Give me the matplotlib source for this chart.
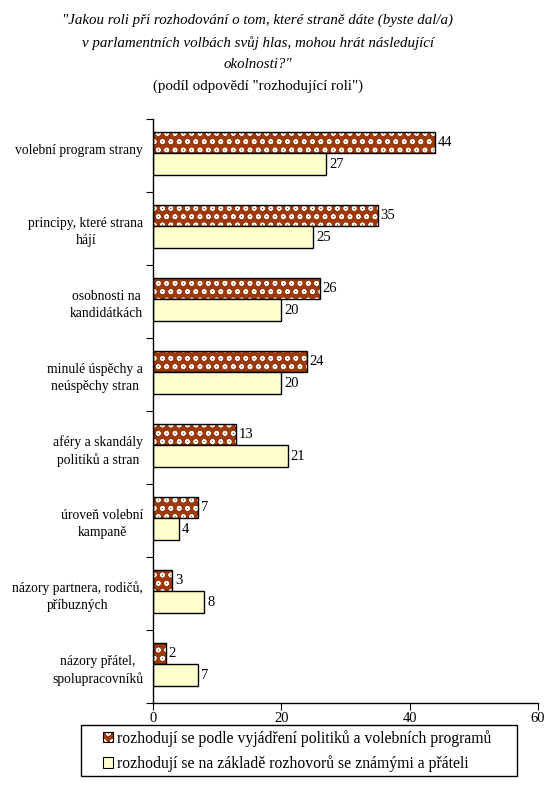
import numpy as np
import matplotlib.pyplot as plt
from matplotlib.patches import Patch, Rectangle

plt.rcParams['font.family'] = ['Liberation Serif', 'DejaVu Serif']
plt.rcParams['font.size'] = 9.8
plt.rcParams['hatch.linewidth'] = 1.0

# data
kategorie = ['volební program strany\n ',
             'principy, které strana\nhájí',
             'osobnosti na\nkandidátkách',
             'minulé úspěchy a\nneúspěchy stran',
             'aféry a skandály\npolitiků a stran',
             'úroveň volební\nkampaně',
             'názory partnera, rodičů,\npříbuzných',
             'názory přátel,\nspolupracovníků']
politici = [44, 35, 26, 24, 13, 7, 3, 2]
pratele = [27, 25, 20, 20, 21, 4, 8, 7]
serie = ['rozhodují se podle vyjádření politiků a volebních programů',
         'rozhodují se na základě rozhovorů se známými a přáteli']

hneda = '#9C3A0C'
zluta = '#FFFFCC'

fig = plt.figure(figsize=(5.52, 7.85), dpi=100)
ax = fig.add_axes([153/552, 1-703/785, 385/552, 584/785])

y = np.arange(len(kategorie))
h = 0.295
sh = 0.03
# horni serie - hneda s bilymi koleckami
ax.barh(y - h/2 - sh, politici, height=h, color=hneda, edgecolor='white',
        hatch='oo', linewidth=0)
b1 = ax.barh(y - h/2 - sh, politici, height=h, fill=False, edgecolor='black', linewidth=1)
b2 = ax.barh(y + h/2 - sh, pratele, height=h, color=zluta, edgecolor='black', linewidth=1)
ax.bar_label(b1, padding=2, fontsize=10.5)
ax.bar_label(b2, padding=2, fontsize=10.5)

ax.set_xlim(0, 60)
ax.set_xticks([0, 20, 40, 60])
ax.set_ylim(len(kategorie) - 0.5, -0.5)
ax.set_yticks(np.arange(len(kategorie) + 1) - 0.5)
ax.set_yticklabels([])
ax.set_yticks(y, kategorie, minor=True)
ax.tick_params(axis='y', which='minor', length=0, pad=7)
ax.tick_params(axis='y', which='major', length=5, direction='out')
ax.tick_params(axis='x', length=5, direction='out', pad=1.5, labelsize=10.5)
for lab in ax.get_yticklabels(minor=True):
    lab.set_multialignment('center')
    lab.set_linespacing(1.4)
ax.spines['top'].set_visible(False)
ax.spines['right'].set_visible(False)
for s in ['left', 'bottom']:
    ax.spines[s].set_linewidth(1)

# titulek
tx = 258/552
fig.text(tx, 1-20/785, '"Jakou roli při rozhodování o tom, které straně dáte (byste dal/a)',
         ha='center', va='center', style='italic', fontsize=10.8)
fig.text(tx, 1-43/785, 'v parlamentních volbách svůj hlas, mohou hrát následující',
         ha='center', va='center', style='italic', fontsize=10.8)
fig.text(tx, 1-65/785, 'okolnosti?"', ha='center', va='center', style='italic', fontsize=10.8)
fig.text(tx, 1-86/785, '(podíl odpovědí "rozhodující roli")', ha='center', va='center',
         fontsize=10.8)

# legenda - ramecek zvlast
fig.patches.append(Rectangle((81/552, 1-776/785), 436/552, 51/785, transform=fig.transFigure,
                             facecolor='white', edgecolor='black', linewidth=1, zorder=5))
h1 = Patch(facecolor=hneda, edgecolor='white', hatch='oo', linewidth=0)
h1b = Patch(fill=False, edgecolor='black', linewidth=0.8)
h2 = Patch(facecolor=zluta, edgecolor='black', linewidth=0.8)
leg = fig.legend([(h1, h1b), h2], serie, loc='center left', bbox_to_anchor=(103/552, 1-751/785),
                 frameon=False, fontsize=11.3,
                 handlelength=0.65, handleheight=0.65, handletextpad=0.25,
                 borderpad=0, labelspacing=0.55, borderaxespad=0)
leg.set_zorder(6)

fig.savefig('out.png', dpi=100)
